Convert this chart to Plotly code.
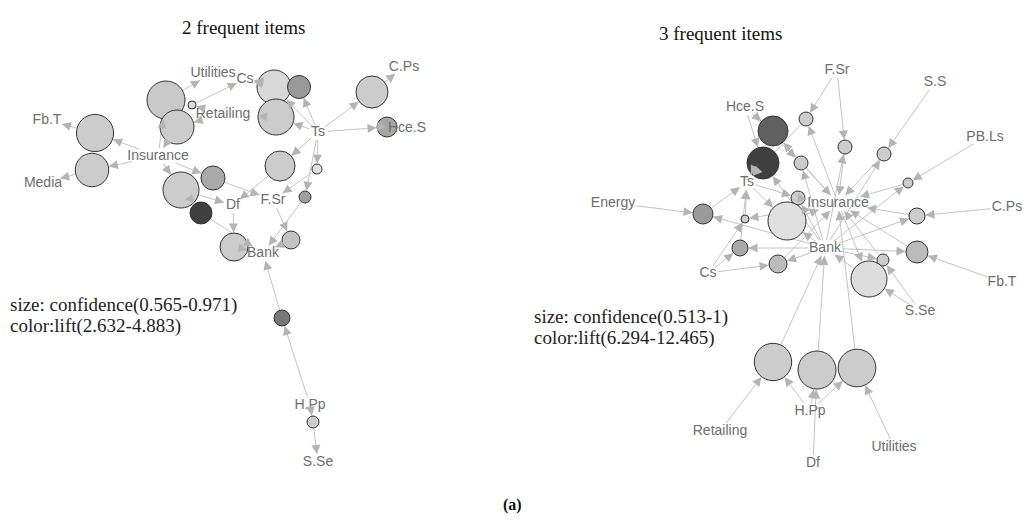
import math
import plotly.graph_objects as go

# ---------------- Left panel: 2 frequent items ----------------
left_item_names = ["Utilities", "Cs", "Retailing", "Fb.T", "Insurance", "Media", "Ts", "C.Ps",
                   "Hce.S", "Df", "F.Sr", "Bank", "H.Pp", "S.Se"]
left_item_x = [213, 245, 223, 47, 158, 43, 318, 404, 407, 233, 273, 263, 310, 318]
left_item_y = [73, 79, 114, 120, 156, 183, 132, 67, 128, 205, 200, 253, 405, 462]

left_rule_x = [166, 192, 177, 95, 92, 181, 213, 201, 234, 291, 305, 317, 280, 274, 299, 276, 372, 387, 282, 313]
left_rule_y = [100, 105, 127, 133, 170, 190, 178, 213, 247, 240, 197, 169, 166, 87, 87, 117, 92, 127, 318, 422]
left_confidence = [0.971, 0.565, 0.917, 0.960, 0.910, 0.944, 0.782, 0.754, 0.836, 0.700, 0.619, 0.592,
                   0.863, 0.917, 0.768, 0.944, 0.890, 0.727, 0.673, 0.619]
left_lift = [2.95, 2.70, 2.91, 2.91, 2.91, 2.91, 3.39, 4.883, 2.91, 3.05, 3.55, 2.632,
             2.91, 2.75, 3.63, 2.91, 2.91, 3.45, 4.11, 2.91]
left_edges = [
    ("Insurance", 1), (1, "Utilities"),
    ("Retailing", 2), (2, "Cs"),
    ("Retailing", 3), (3, "Insurance"),
    ("Insurance", 4), (4, "Fb.T"),
    ("Insurance", 5), (5, "Media"),
    ("Insurance", 6), (6, "Df"),
    ("Insurance", 7), (7, "F.Sr"),
    ("Insurance", 8), (8, "Bank"),
    ("Df", 9), (9, "Bank"),
    ("F.Sr", 10), (10, "Bank"),
    ("Ts", 11), (11, "Bank"),
    ("Ts", 12), (12, "F.Sr"),
    ("Ts", 13), (13, "Df"),
    ("Ts", 14), (14, "Cs"),
    ("Ts", 15), (15, "Cs"),
    ("Ts", 16), (16, "Retailing"),
    ("Ts", 17), (17, "C.Ps"),
    ("Ts", 18), (18, "Hce.S"),
    ("H.Pp", 19), (19, "Bank"),
    ("H.Pp", 20), (20, "S.Se"),
]

# ---------------- Right panel: 3 frequent items ----------------
right_item_names = ["F.Sr", "S.S", "Hce.S", "PB.Ls", "Ts", "Energy", "Insurance", "C.Ps", "Bank",
                    "Cs", "Fb.T", "S.Se", "Retailing", "H.Pp", "Df", "Utilities"]
right_item_x = [837, 935, 745, 985, 747, 613, 838, 1007, 825, 708, 1002, 920, 720, 810, 813, 894]
right_item_y = [70, 82, 107, 137, 182, 203, 203, 207, 248, 273, 282, 311, 431, 411, 463, 447]

right_rule_x = [806, 773, 845, 884, 763, 801, 908, 798, 703, 745, 787, 917, 740, 778, 917, 883, 869, 773, 817, 857]
right_rule_y = [119, 131, 147, 154, 163, 163, 183, 198, 214, 219, 221, 216, 248, 264, 252, 260, 279, 362, 370, 368]
right_confidence = [0.610, 0.870, 0.610, 0.610, 0.903, 0.610, 0.545, 0.610, 0.708, 0.513, 1.0, 0.643,
                    0.643, 0.675, 0.740, 0.578, 0.968, 0.990, 1.0, 0.995]
right_lift = [7.07, 11.23, 7.07, 7.07, 12.465, 7.07, 7.07, 7.07, 9.0, 7.07, 6.294, 7.07,
              8.38, 7.72, 7.72, 7.07, 6.40, 7.07, 7.07, 7.07]
right_edges = [
    ("F.Sr", 1), ("Insurance", 1), (1, "Ts"),
    ("Hce.S", 2), ("Insurance", 2), (2, "Ts"),
    ("F.Sr", 3), ("Bank", 3), (3, "Insurance"),
    ("S.S", 4), ("Bank", 4), (4, "Insurance"),
    ("Hce.S", 5), ("Bank", 5), (5, "Ts"),
    ("Hce.S", 6), ("Bank", 6), (6, "Insurance"),
    ("PB.Ls", 7), ("Bank", 7), (7, "Insurance"),
    ("Ts", 8), ("Bank", 8), (8, "Insurance"),
    ("Energy", 9), ("Bank", 9), (9, "Ts"),
    ("Cs", 10), ("Insurance", 10), (10, "Ts"),
    ("Ts", 11), ("Bank", 11), (11, "Insurance"),
    ("C.Ps", 12), ("Bank", 12), (12, "Insurance"),
    ("Cs", 13), ("Bank", 13), (13, "Ts"),
    ("Cs", 14), ("Bank", 14), (14, "Insurance"),
    ("Fb.T", 15), ("Bank", 15), (15, "Insurance"),
    ("S.Se", 16), ("Bank", 16), (16, "Insurance"),
    ("S.Se", 17), ("Insurance", 17), (17, "Bank"),
    ("Retailing", 18), ("H.Pp", 18), (18, "Bank"),
    ("Df", 19), ("H.Pp", 19), (19, "Bank"),
    ("Utilities", 20), ("H.Pp", 20), (20, "Insurance"),
]

panel_titles = ["2 frequent items", "3 frequent items"]
legend_lines = [["size: confidence(0.565-0.971)", "color:lift(2.632-4.883)"],
                ["size: confidence(0.513-1)", "color:lift(6.294-12.465)"]]
caption = "(a)"

EDGE_COLOR = "#c4c4c4"
HEAD_COLOR = "#b4b4b4"
R_MIN, R_MAX = 4.0, 19.0

fig = go.Figure()
annotations = []


def gray(lift, lo, hi):
    t = (lift - lo) / (hi - lo)
    v = int(round(224 - t * 160))
    return f"rgb({v},{v},{v})"


def add_panel(names, ix, iy, rx, ry, conf, lift, edges):
    cmin, cmax = min(conf), max(conf)
    lmin, lmax = min(lift), max(lift)
    radii = [R_MIN + (c - cmin) / (cmax - cmin) * (R_MAX - R_MIN) for c in conf]
    items = {n: (x, y) for n, x, y in zip(names, ix, iy)}

    def node(k):
        if isinstance(k, int):
            return rx[k - 1], ry[k - 1], ("rule", radii[k - 1])
        x, y = items[k]
        return x, y, ("item", k)

    def pad(info, ux, uy):
        kind, v = info
        if kind == "rule":
            return v + 0.5
        a = len(v) * 3.8 + 2
        b = 8
        return 1.0 / math.sqrt((ux / a) ** 2 + (uy / b) ** 2)

    lx, ly = [], []
    for s, d in edges:
        x0, y0, i0 = node(s)
        x1, y1, i1 = node(d)
        dx, dy = x1 - x0, y1 - y0
        L = math.hypot(dx, dy)
        ux, uy = dx / L, dy / L
        p0 = pad(i0, ux, uy)
        p1 = pad(i1, -ux, -uy)
        sx, sy = x0 + ux * p0, y0 + uy * p0
        ex, ey = x1 - ux * p1, y1 - uy * p1
        lx += [sx, ex, None]
        ly += [sy, ey, None]
        annotations.append(dict(
            x=ex, y=ey, xref="x", yref="y", text="", showarrow=True,
            ax=-ux * 9, ay=-uy * 9, axref="pixel", ayref="pixel",
            arrowhead=2, arrowsize=1.8, arrowwidth=1, arrowcolor=HEAD_COLOR,
        ))
    fig.add_trace(go.Scatter(x=lx, y=ly, mode="lines", hoverinfo="skip",
                             line=dict(color=EDGE_COLOR, width=1), showlegend=False))
    fig.add_trace(go.Scatter(
        x=rx, y=ry, mode="markers", showlegend=False,
        marker=dict(size=[2 * r for r in radii],
                    color=[gray(v, lmin, lmax) for v in lift],
                    line=dict(color="#333333", width=1), opacity=1),
        hovertext=[f"confidence {c}, lift {l}" for c, l in zip(conf, lift)],
        hoverinfo="text"))
    fig.add_trace(go.Scatter(
        x=ix, y=iy, mode="text", text=names, showlegend=False, hoverinfo="skip",
        textfont=dict(family="Liberation Sans", size=14, color="#6e6e6e")))


add_panel(left_item_names, left_item_x, left_item_y, left_rule_x, left_rule_y,
          left_confidence, left_lift, left_edges)
add_panel(right_item_names, right_item_x, right_item_y, right_rule_x, right_rule_y,
          right_confidence, right_lift, right_edges)

serif = "Liberation Serif"
annotations.append(dict(x=243, y=27, xref="x", yref="y", text=panel_titles[0], showarrow=False,
                        font=dict(family=serif, size=19, color="#111")))
annotations.append(dict(x=720, y=33, xref="x", yref="y", text=panel_titles[1], showarrow=False,
                        font=dict(family=serif, size=19, color="#111")))
for (lx0, ly0), lines in zip([(8, 305), (532, 317)], legend_lines):
    for k, t in enumerate(lines):
        annotations.append(dict(x=lx0, y=ly0 + 21 * k, xref="x", yref="y", text=t, showarrow=False,
                                xanchor="left", font=dict(family=serif, size=19, color="#222")))
annotations.append(dict(x=512, y=505, xref="x", yref="y", text="<b>" + caption + "</b>",
                        showarrow=False, font=dict(family=serif, size=16, color="#111")))

fig.update_layout(
    width=1024, height=521, margin=dict(l=0, r=0, t=0, b=0),
    paper_bgcolor="white", plot_bgcolor="white",
    xaxis=dict(range=[0, 1024], visible=False, fixedrange=True),
    yaxis=dict(range=[521, 0], visible=False, fixedrange=True),
    annotations=annotations,
)
fig.write_html("out.html")
